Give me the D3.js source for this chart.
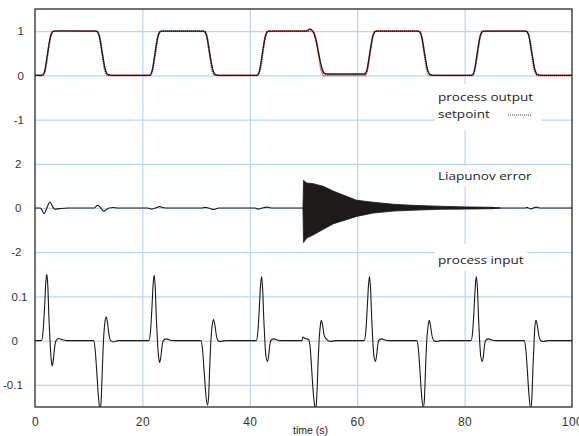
<!DOCTYPE html>
<html>
<head>
<meta charset="utf-8">
<script src="https://cdn.jsdelivr.net/npm/d3@7"></script>
<style>
  body { margin: 0; background: #fff; }
  #chart { width: 579px; height: 436px; }
</style>
</head>
<body>
<div id="chart"></div>
<script>
// ---- data: [time (s), value] ----
const xTicks = [0, 20, 40, 60, 80, 100];
const xGridTicks = [20, 40, 60, 80];
const outTicks = [1, 0, -1];
const errTicks = [2, 0, -2];
const inpTicks = [0.1, 0, -0.1];

const outputPts = [
  [0, 0], [1.3, 0], [1.6, 0.03], [1.9, 0.15], [2.2, 0.38], [2.5, 0.62], [2.8, 0.83], [3.1, 0.95], [3.5, 1], [5, 1.005],
  [11.4, 1], [11.8, 0.95], [12.1, 0.82], [12.4, 0.6], [12.7, 0.38], [13, 0.18], [13.3, 0.06], [13.7, 0.01], [14.2, 0],
  [21.3, 0], [21.6, 0.03], [21.9, 0.15], [22.2, 0.38], [22.5, 0.62], [22.8, 0.83], [23.1, 0.95], [23.5, 1],
  [31.4, 1], [31.8, 0.95], [32.1, 0.82], [32.4, 0.6], [32.7, 0.38], [33, 0.18], [33.3, 0.06], [33.7, 0.01], [34.2, 0],
  [41.3, 0], [41.6, 0.03], [41.9, 0.15], [42.2, 0.38], [42.5, 0.62], [42.8, 0.83], [43.1, 0.95], [43.5, 1],
  [50.6, 1], [51.2, 1.05], [51.7, 1], [52, 0.93], [52.4, 0.75], [52.8, 0.5], [53.2, 0.27], [53.6, 0.1], [54, 0.04], [54.4, 0.03],
  [61.3, 0.03], [61.6, 0.06], [61.9, 0.17], [62.2, 0.39], [62.5, 0.62], [62.8, 0.83], [63.1, 0.95], [63.5, 1],
  [71.4, 1], [71.8, 0.95], [72.1, 0.82], [72.4, 0.6], [72.7, 0.38], [73, 0.18], [73.3, 0.06], [73.7, 0.01], [74.2, 0],
  [81.3, 0], [81.6, 0.03], [81.9, 0.15], [82.2, 0.38], [82.5, 0.62], [82.8, 0.83], [83.1, 0.95], [83.5, 1],
  [91.4, 1], [91.8, 0.95], [92.1, 0.82], [92.4, 0.6], [92.7, 0.38], [93, 0.18], [93.3, 0.06], [93.7, 0.01], [94.2, 0],
  [100, 0]
];

const setpointPts = [
  [0, 0], [1.4, 0], [1.9, 0.12], [2.4, 0.5], [2.9, 0.88], [3.4, 1],
  [11.5, 1], [12, 0.88], [12.5, 0.5], [13, 0.12], [13.6, 0],
  [21.4, 0], [21.9, 0.12], [22.4, 0.5], [22.9, 0.88], [23.4, 1],
  [31.5, 1], [32, 0.88], [32.5, 0.5], [33, 0.12], [33.6, 0],
  [41.4, 0], [41.9, 0.12], [42.4, 0.5], [42.9, 0.88], [43.4, 1],
  [51.7, 1], [52.2, 0.88], [52.8, 0.5], [53.3, 0.12], [53.9, 0],
  [61.4, 0], [61.9, 0.12], [62.4, 0.5], [62.9, 0.88], [63.4, 1],
  [71.5, 1], [72, 0.88], [72.5, 0.5], [73, 0.12], [73.6, 0],
  [81.4, 0], [81.9, 0.12], [82.4, 0.5], [82.9, 0.88], [83.4, 1],
  [91.5, 1], [92, 0.88], [92.5, 0.5], [93, 0.12], [93.6, 0],
  [100, 0]
];

const errorPts = [
  [0, 0], [1.0, 0], [1.3, -0.1], [1.7, -0.26], [2.2, 0], [2.8, 0.27], [3.3, 0.05], [3.7, -0.05], [4.5, -0.03], [6.2, 0],
  [11.0, 0], [11.7, 0.12], [12.2, 0.02], [12.8, -0.14], [13.4, -0.05], [13.8, 0], [14.5, 0.02], [15.5, 0],
  [21.0, 0], [21.7, -0.05], [22.4, 0], [23.2, 0.06], [24, 0.01], [25, 0],
  [31, 0], [31.6, 0.03], [32.3, 0], [33.3, -0.07], [34.2, 0], [35, 0],
  [41, 0], [41.5, -0.05], [42.3, 0], [43.2, 0.04], [44, 0],
  [91.3, 0], [91.6, 0.03], [92.3, -0.04], [93.3, 0.04], [94, 0], [100, 0]
];

// envelope of the fast oscillation after the disturbance at t = 50 s
const burstT     = [49.9, 50.0, 50.6, 51.8, 53.7, 55.6, 58.0, 59.9, 63.0, 66.7, 70.4, 75.4, 80.4, 85.3, 86.6];
const burstUpper = [0, 1.25, 1.13, 1.1, 0.98, 0.76, 0.53, 0.35, 0.26, 0.17, 0.12, 0.08, 0.05, 0.03, 0];
const burstLower = [0, -1.56, -1.36, -1.22, -0.96, -0.71, -0.53, -0.38, -0.23, -0.14, -0.1, -0.06, -0.05, -0.03, 0];

const inputPts = [
  [0, 0], [1.2, 0], [1.5, 0.02], [1.8, 0.08], [2.0, 0.13], [2.2, 0.151], [2.4, 0.12], [2.6, 0.05], [2.8, 0],
  [3.0, -0.04], [3.2, -0.057], [3.4, -0.045], [3.65, -0.015], [3.9, 0], [4.4, 0.005], [5.2, 0.002], [5.9, 0],
  [10.9, 0], [11.2, -0.02], [11.5, -0.07], [11.8, -0.125], [12.1, -0.155], [12.3, -0.14], [12.55, -0.06], [12.75, 0],
  [13.0, 0.04], [13.25, 0.054], [13.5, 0.04], [13.8, 0.012], [14.1, 0], [14.6, -0.003], [15.5, 0],
  [21.2, 0], [21.5, 0.02], [21.8, 0.08], [22.0, 0.128], [22.2, 0.148], [22.4, 0.118], [22.6, 0.05], [22.8, 0],
  [23.0, -0.035], [23.2, -0.049], [23.4, -0.04], [23.65, -0.013], [23.9, 0], [24.4, 0.004], [25.2, 0.001], [25.9, 0],
  [30.9, 0], [31.2, -0.02], [31.5, -0.07], [31.8, -0.12], [32.1, -0.146], [32.3, -0.132], [32.55, -0.055], [32.75, 0],
  [33.0, 0.035], [33.25, 0.048], [33.5, 0.035], [33.8, 0.01], [34.1, 0], [34.6, -0.002], [35.5, 0],
  [41.2, 0], [41.5, 0.02], [41.8, 0.08], [42.0, 0.125], [42.2, 0.145], [42.4, 0.115], [42.6, 0.05], [42.8, 0],
  [43.0, -0.034], [43.3, -0.047], [43.5, -0.035], [43.7, -0.012], [43.9, 0], [44.4, 0.004], [45.2, 0.001], [45.9, 0],
  [49.7, 0], [49.9, 0.008], [50.3, 0.005], [50.9, 0.003], [51.2, -0.01], [51.5, -0.06], [51.8, -0.115], [52.1, -0.148],
  [52.3, -0.155], [52.5, -0.12], [52.75, -0.04], [52.9, 0], [53.1, 0.03], [53.3, 0.046], [53.55, 0.035], [53.9, 0.01],
  [54.6, 0], [55, -0.002], [56, 0],
  [61.3, 0], [61.6, 0.02], [61.9, 0.08], [62.1, 0.125], [62.3, 0.145], [62.5, 0.115], [62.7, 0.05], [62.9, 0],
  [63.1, -0.034], [63.4, -0.047], [63.6, -0.035], [63.8, -0.012], [64.0, 0], [64.5, 0.004], [65.3, 0.001], [66, 0],
  [71.1, 0], [71.4, -0.02], [71.7, -0.07], [72.0, -0.125], [72.3, -0.152], [72.5, -0.135], [72.75, -0.055], [72.95, 0],
  [73.2, 0.033], [73.4, 0.046], [73.65, 0.034], [73.95, 0.01], [74.3, 0], [74.8, -0.002], [75.6, 0],
  [81.2, 0], [81.5, 0.02], [81.8, 0.08], [82.0, 0.125], [82.2, 0.145], [82.4, 0.115], [82.6, 0.05], [82.8, 0],
  [83.0, -0.034], [83.3, -0.047], [83.5, -0.035], [83.7, -0.012], [83.9, 0], [84.4, 0.004], [85.2, 0.001], [85.9, 0],
  [91.1, 0], [91.4, -0.02], [91.7, -0.07], [92.0, -0.125], [92.3, -0.152], [92.5, -0.135], [92.75, -0.055], [92.95, 0],
  [93.1, 0.033], [93.3, 0.046], [93.55, 0.034], [93.85, 0.01], [94.2, 0], [94.7, -0.002], [95.5, 0],
  [100, 0]
];

function drawControlChart(divId, options = {}) {
  const {
    margin = { top: 9, right: 7, bottom: 29, left: 35 },
    gridColor = "#b9d7ef",
    frameColor = "#2a2a2a",
    tickFont = "'Liberation Sans', Arial, sans-serif",
    labelFont = "'Open Sans', sans-serif",
    labelStretch = 1.23,
  } = options;

  const W = 579, H = 436;
  const width = W - margin.left - margin.right;
  const height = H - margin.top - margin.bottom;
  const panelH = height / 3;

  d3.select(`#${divId}`).selectAll("*").remove();

  const svg = d3.select(`#${divId}`)
    .append("svg")
    .attr("width", W)
    .attr("height", H)
    .style("background", "#fff");

  const g = svg.append("g")
    .attr("transform", `translate(${margin.left},${margin.top})`);

  const x = d3.scaleLinear().domain([0, 100]).range([0, width]);

  const panels = [
    { id: "out", domain: [-1.5, 1.5], ticks: outTicks, labelX: -11, anchor: "end" },
    { id: "err", domain: [-3, 3], ticks: errTicks, labelX: -13.5, anchor: "end" },
    { id: "inp", domain: [-0.15, 0.15], ticks: inpTicks, labelX: -23.5, anchor: "start" },
  ];
  panels.forEach((p, i) => {
    p.top = panelH * i;
    p.y = d3.scaleLinear().domain(p.domain).range([panelH * (i + 1), panelH * i]);
  });

  // vertical grid
  g.append("g")
    .attr("transform", `translate(0,${height})`)
    .call(d3.axisBottom(x).tickValues(xGridTicks).tickSize(-height).tickFormat(""))
    .call((a) => a.select(".domain").remove())
    .selectAll("line").attr("stroke", gridColor).attr("stroke-width", 1.2);

  // horizontal grid + tick labels per panel
  panels.forEach((p) => {
    g.append("g")
      .call(d3.axisLeft(p.y).tickValues(p.ticks).tickSize(-width).tickFormat(""))
      .call((a) => a.select(".domain").remove())
      .selectAll("line").attr("stroke", gridColor).attr("stroke-width", 1.2);

    const lab = g.append("g")
      .call(d3.axisLeft(p.y).tickValues(p.ticks).tickSize(0).tickFormat((d) => String(d)))
      .call((a) => a.select(".domain").remove());
    lab.selectAll("text")
      .attr("x", (d) => (p.anchor === "start" && d < 0 ? p.labelX - 8.5 : p.labelX))
      .attr("text-anchor", p.anchor)
      .style("font-family", tickFont)
      .style("font-size", "11.5px")
      .attr("fill", "#333");

    svg.append("clipPath").attr("id", `clip-${p.id}`)
      .append("rect")
      .attr("x", 0).attr("y", p.top)
      .attr("width", width).attr("height", panelH);
  });

  const line = (yScale) => d3.line()
    .x((d) => x(d[0]))
    .y((d) => yScale(d[1]))
    .curve(d3.curveMonotoneX);

  const [pOut, pErr, pInp] = panels;

  // process output + setpoint
  const gOut = g.append("g").attr("clip-path", "url(#clip-out)");
  gOut.append("path")
    .datum(setpointPts)
    .attr("d", line(pOut.y))
    .attr("fill", "none")
    .attr("stroke", "#e0302a")
    .attr("stroke-width", 1.9)
    .attr("stroke-dasharray", "1.2,0.8");
  gOut.append("path")
    .datum(outputPts)
    .attr("d", line(pOut.y))
    .attr("fill", "none")
    .attr("stroke", "#1a1a1a")
    .attr("stroke-width", 1.3);

  // Liapunov error
  const gErr = g.append("g").attr("clip-path", "url(#clip-err)");
  gErr.append("path")
    .datum(errorPts)
    .attr("d", line(pErr.y))
    .attr("fill", "none")
    .attr("stroke", "#1a1a1a")
    .attr("stroke-width", 1.1);
  const burst = burstT.map((t, i) => ({ t, hi: burstUpper[i], lo: burstLower[i] }));
  gErr.append("path")
    .datum(burst)
    .attr("d", d3.area()
      .x((d) => x(d.t))
      .y0((d) => pErr.y(d.lo))
      .y1((d) => pErr.y(d.hi)))
    .attr("fill", "#1e1a1a")
    .attr("stroke", "#1e1a1a")
    .attr("stroke-width", 0.8);

  // process input
  const gInp = g.append("g").attr("clip-path", "url(#clip-inp)");
  gInp.append("path")
    .datum(inputPts)
    .attr("d", line(pInp.y))
    .attr("fill", "none")
    .attr("stroke", "#1a1a1a")
    .attr("stroke-width", 1.1);

  // series labels on white patches
  const labelX = width - 134;
  function addLabel(lines, pad) {
    const grp = g.append("g");
    const box = grp.append("rect").attr("fill", "#fff");
    lines.forEach((l) => {
      grp.append("text")
        .attr("transform", `translate(${labelX},${l.y}) scale(${labelStretch},1)`)
        .text(l.text)
        .style("font-family", labelFont)
        .style("font-size", "11px")
        .attr("fill", "#222");
    });
    return { grp, box, pad };
  }
  function fitBox(lbl) {
    const b = lbl.grp.node().getBBox();
    lbl.box
      .attr("x", b.x - lbl.pad[3])
      .attr("y", b.y - lbl.pad[0])
      .attr("width", b.width + lbl.pad[1] + lbl.pad[3])
      .attr("height", b.height + lbl.pad[0] + lbl.pad[2]);
  }

  const legend = addLabel([
    { text: "process output", y: 91.5 },
    { text: "setpoint", y: 108.5 },
  ], [5, 8, 9, 3]);
  legend.grp.append("line")
    .attr("x1", labelX + 70).attr("x2", labelX + 94)
    .attr("y1", 106).attr("y2", 106)
    .attr("stroke", "#444")
    .attr("stroke-width", 1)
    .attr("stroke-dasharray", "1,1");
  fitBox(legend);

  const errLabel = addLabel([{ text: "Liapunov error", y: 170.5 }], [2, 3, 3, 4]);
  fitBox(errLabel);
  const inpLabel = addLabel([{ text: "process input", y: 254.5 }], [8, 3, 4, 3]);
  fitBox(inpLabel);

  // frame
  g.append("rect")
    .attr("x", 0).attr("y", 0)
    .attr("width", width).attr("height", height)
    .attr("fill", "none")
    .attr("stroke", frameColor)
    .attr("stroke-width", 1.3);

  // x axis labels
  g.append("g")
    .attr("transform", `translate(0,${height})`)
    .call(d3.axisBottom(x).tickValues(xTicks).tickSize(0).tickPadding(10))
    .call((a) => a.select(".domain").remove())
    .selectAll("text")
    .style("font-family", tickFont)
    .style("font-size", "12px")
    .style("letter-spacing", "0.5px")
    .attr("fill", "#333");

  svg.append("text")
    .attr("text-anchor", "middle")
    .attr("x", margin.left + width / 2 + 7)
    .attr("y", H - 2.5)
    .text("time (s)")
    .style("font-family", tickFont)
    .style("font-size", "10.5px")
    .attr("fill", "#222");
}

drawControlChart("chart");
</script>
</body>
</html>
